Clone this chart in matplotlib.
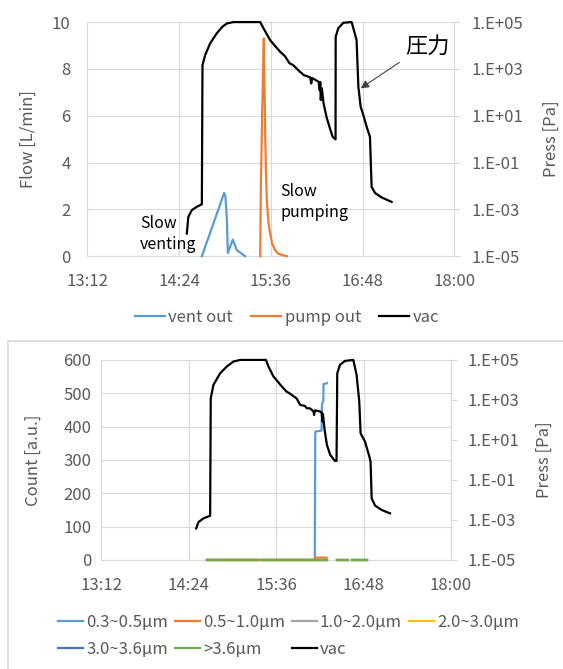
import numpy as np
import matplotlib
matplotlib.use("Agg")
import matplotlib.pyplot as plt
from matplotlib.ticker import FixedLocator, FuncFormatter, NullLocator
from matplotlib.lines import Line2D

plt.rcParams["font.family"] = ["Noto Sans CJK JP", "DejaVu Sans"]

# time axis: minutes after 13:12
T0 = 13 * 60 + 12
x_ticks = [0, 72, 144, 216, 288]

# ---- top chart: flow + pressure ----
vent_t = [89.9, 107.4, 108.4, 109.5, 110.3, 114.2, 117.3, 123.9]
vent_flow = [0.0, 2.70, 2.55, 1.61, 0.14, 0.71, 0.26, 0.0]

pump_t = [135.7, 136.2, 137.2, 138.5, 139.0, 139.6, 140.2, 140.9, 142.0, 143.5,
          145.0, 147.4, 150.0, 156.6]
pump_flow = [0.0, 2.96, 6.03, 9.3, 7.5, 5.24, 3.6, 2.39, 1.5, 0.97,
             0.55, 0.26, 0.1, 0.0]

vac_top_t = [78.1, 79.3, 82.0, 85.9, 89.9, 90.4, 92.5, 96.4, 101.6, 106.0,
             109.5, 114.7, 135.7, 138.3, 143.5, 147.0, 151.4, 155.0, 158.7,
             161.6, 166.8, 168.4, 169.7, 174.9, 175.7, 176.5, 181.5, 182.4,
             182.8, 183.2, 184.0, 185.4, 187.7, 190.4, 192.5, 194.8, 194.9,
             196.9, 200.9, 207.4, 209.5, 211.3, 212.7, 214.5, 216.6, 219.2,
             221.8, 223.1, 225.8, 231.0, 238.8]
vac_top_log = [-4.03, -3.32, -3.03, -2.89, -2.78, 3.16, 3.59, 4.09, 4.52, 4.80,
               4.94, 5.0, 5.0, 4.73, 4.23, 4.0, 3.73, 3.55, 3.24,
               3.16, 2.88, 2.81, 2.74, 2.64, 2.38, 2.61, 2.45, 2.09,
               2.44, 1.67, 2.18, 1.53, 0.95, 0.46, 0.10, -0.01, 4.37,
               4.73, 4.97, 5.0, 4.59, 4.23, 2.24, 1.38, 1.03, 0.53,
               0.10, -2.04, -2.30, -2.49, -2.68]

# ---- bottom chart: particle counts + pressure ----
size_labels = ["0.3~0.5µm", "0.5~1.0µm", "1.0~2.0µm", "2.0~3.0µm",
               "3.0~3.6µm", ">3.6µm"]
size_colors = ["#5B9BD5", "#ED7D31", "#A5A5A5", "#FFC000", "#4472C4", "#70AD47"]

pc_t = [87.6, 129.6, np.nan, 133.7, 186.2, np.nan, 193.8, 203.5, np.nan, 206.2, 218.5]
pc_zero = [0, 0, np.nan, 0, 0, np.nan, 0, 0, np.nan, 0, 0]

pc03_t = [87.6, 175.9, 176.3, 181.5, 181.8, 182.9, 183.1, 185.9]
pc03 = [0, 0, 385, 388, 470, 474, 528, 530]
pc05_t = [87.6, 176.0, 176.3, 185.6]
pc05 = [0, 0, 7, 7]

vac_bot_t = [78.3, 80.2, 84.3, 89.8, 90.3, 92.5, 98.0, 103.5, 109.0, 114.5,
             135.7, 137.8, 141.9, 148.8, 152.6, 155.1, 160.9, 163.9, 167.8,
             169.4, 171.9, 174.9, 175.3, 176.0, 180.4, 181.5, 182.3, 182.6,
             184.0, 185.9, 188.6, 192.5, 193.8, 194.4, 196.6, 200.7, 207.6,
             210.3, 212.5, 213.6, 217.2, 220.8, 221.8, 222.7, 225.5, 230.9, 237.8]
vac_bot_log = [-3.42, -3.11, -2.92, -2.79, 3.08, 3.75, 4.33, 4.67, 4.92, 5.0,
               5.0, 4.67, 4.17, 3.67, 3.42, 3.33, 3.08, 2.75, 2.70,
               2.58, 2.58, 2.42, 2.25, 2.48, 2.42, 2.38, 1.92, 2.30,
               1.50, 0.75, 0.25, -0.05, -0.05, 4.33, 4.75, 4.95, 5.0,
               4.25, 2.92, 1.33, 0.92, 0.17, -0.08, -1.92, -2.28, -2.50, -2.67]

GRID = "#d9d9d9"
TXT = "#595959"
FS = 12
LW = 1.6


def clock(m, _pos=None):
    m = int(round(m)) + T0
    return f"{m // 60}:{m % 60:02d}"


def press_fmt(v, _pos=None):
    return f"1.E{int(round(np.log10(v))):+03d}"


def style_axes(ax, axr, left_pad, right_pad):
    ax.set_xlim(0, 288)
    ax.xaxis.set_major_locator(FixedLocator(x_ticks))
    ax.xaxis.set_major_formatter(FuncFormatter(clock))
    ax.grid(True, color=GRID, lw=0.8)
    ax.set_axisbelow(True)
    for s in ("top", "left", "right"):
        ax.spines[s].set_visible(False)
    ax.spines["bottom"].set_color(GRID)
    ax.spines["bottom"].set_zorder(0.5)
    ax.tick_params(axis="y", length=0, pad=left_pad, labelcolor=TXT, labelsize=FS)
    ax.tick_params(axis="x", length=0, pad=12, labelcolor=TXT, labelsize=FS)

    axr.set_yscale("log")
    axr.set_ylim(1e-5, 1e5)
    axr.yaxis.set_major_locator(FixedLocator([1e-5, 1e-3, 1e-1, 1e1, 1e3, 1e5]))
    axr.yaxis.set_minor_locator(NullLocator())
    axr.yaxis.set_major_formatter(FuncFormatter(press_fmt))
    for s in ("top", "left", "bottom"):
        axr.spines[s].set_visible(False)
    axr.spines["right"].set_color(GRID)
    axr.tick_params(axis="y", length=4, color=GRID, pad=right_pad,
                    labelcolor=TXT, labelsize=FS)


fig = plt.figure(figsize=(5.63, 6.69), dpi=100)

# ---------------- top ----------------
ax1 = fig.add_axes([0.155, 0.617, 0.652, 0.35])
ax1r = ax1.twinx()
style_axes(ax1, ax1r, 12, 8)
ax1.set_ylim(0, 10)
ax1.yaxis.set_major_locator(FixedLocator([0, 2, 4, 6, 8, 10]))

h1, = ax1.plot(vent_t, vent_flow, color="#5B9BD5", lw=LW, label="vent out",
               clip_on=False, zorder=3)
h2, = ax1.plot(pump_t, pump_flow, color="#ED7D31", lw=LW, label="pump out",
               clip_on=False, zorder=3)
h3, = ax1r.plot(vac_top_t, 10.0 ** np.array(vac_top_log), color="black", lw=LW,
                label="vac", clip_on=False)

ax1.set_ylabel("Flow [L/min]", color=TXT, fontsize=FS)
ax1.yaxis.set_label_coords(-0.138, 0.5)
ax1r.set_ylabel("Press [Pa]", color=TXT, fontsize=FS)
ax1r.yaxis.set_label_coords(1.241, 0.5)

ax1.text(41.4, 0.94, "Slow\nventing", ha="left", va="center", fontsize=11.5,
         linespacing=1.3)
ax1.text(151.4, 2.33, "Slow\npumping", ha="left", va="center", fontsize=11.5,
         linespacing=1.3)
ax1r.text(266.9, 9.3e3, "圧力", ha="center", va="center", fontsize=16)
ax1r.annotate("", xy=(214.5, 148), xytext=(244.9, 1.9e3),
              arrowprops=dict(arrowstyle="-|>", color="#404040", lw=0.8,
                              mutation_scale=12, shrinkA=0, shrinkB=0))

fig.legend(handles=[h1, h2, h3], loc="center", bbox_to_anchor=(0.51, 0.525),
           ncol=3, frameon=False, fontsize=FS, labelcolor=TXT,
           handlelength=1.8, handletextpad=0.2, columnspacing=1.1)

# ---------------- bottom ----------------
fig.add_artist(Line2D([0.0148, 0.0148], [0, 0.49], color=GRID, lw=1.2))
fig.add_artist(Line2D([0.0148, 1.0], [0.49, 0.49], color=GRID, lw=1.2))

ax2 = fig.add_axes([0.1794, 0.163, 0.6217, 0.299])
ax2r = ax2.twinx()
style_axes(ax2, ax2r, 7, 8)
ax2.set_ylim(0, 600)
ax2.yaxis.set_major_locator(FixedLocator([0, 100, 200, 300, 400, 500, 600]))

handles = []
handles.append(ax2.plot(pc03_t, pc03, color=size_colors[0], lw=LW,
                        label=size_labels[0], clip_on=False, zorder=3)[0])
handles.append(ax2.plot(pc05_t, pc05, color=size_colors[1], lw=LW,
                        label=size_labels[1], clip_on=False, zorder=3)[0])
for lab, col in zip(size_labels[2:], size_colors[2:]):
    handles.append(ax2.plot(pc_t, pc_zero, color=col, lw=LW, label=lab,
                            clip_on=False, zorder=3)[0])
hv, = ax2r.plot(vac_bot_t, 10.0 ** np.array(vac_bot_log), color="black", lw=LW,
                label="vac", clip_on=False)

ax2.set_ylabel("Count [a.u.]", color=TXT, fontsize=FS)
ax2.yaxis.set_label_coords(-0.169, 0.5)
ax2r.set_ylabel("Press [Pa]", color=TXT, fontsize=FS)
ax2r.yaxis.set_label_coords(1.243, 0.5)

order = [handles[0], handles[4], handles[1], handles[5], handles[2], hv, handles[3]]
fig.legend(handles=order, loc="center", bbox_to_anchor=(0.512, 0.049), ncol=4,
           frameon=False, fontsize=FS, labelcolor=TXT, handlelength=1.5,
           handletextpad=0.2, columnspacing=0.4, labelspacing=0.6)

fig.savefig("out.png", dpi=100)
